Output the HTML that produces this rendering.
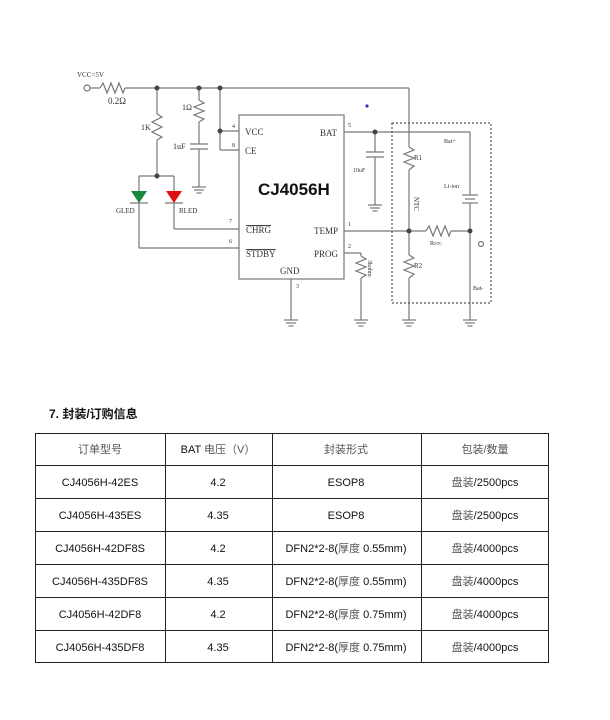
<!DOCTYPE html>
<html><head><meta charset="utf-8"><style>
html,body{margin:0;padding:0;background:#fff;}
svg{display:block;}
.s{font-family:"Liberation Serif","Noto Serif CJK SC",serif;fill:#333;}
.t{font-family:"Liberation Sans","Noto Sans CJK SC",sans-serif;fill:#111;font-size:11px;}
</style></head><body>
<svg width="610" height="720" viewBox="0 0 610 720" xmlns="http://www.w3.org/2000/svg">
<defs>
<g id="gnd"><line x1="-7" y1="0" x2="7" y2="0"/><line x1="-5" y1="3" x2="5" y2="3"/><line x1="-2.5" y1="6" x2="2.5" y2="6"/></g>
</defs>
<g stroke="#777" stroke-width="1.2" fill="none">
<circle cx="87" cy="88" r="3"/>
<line x1="90" y1="88" x2="100" y2="88"/>
<polyline points="100,88 103,83 107,93 111,83 115,93 119,83 123,93 125,88"/>
<line x1="125" y1="88" x2="409" y2="88"/>
<line x1="157" y1="88" x2="157" y2="114"/>
<polyline points="157,114 162,117 152,122 162,127 152,132 162,137 157,140"/>
<line x1="157" y1="140" x2="157" y2="176"/>
<line x1="139" y1="176" x2="174" y2="176"/>
<line x1="139" y1="176" x2="139" y2="248"/>
<line x1="174" y1="176" x2="174" y2="229"/>
<line x1="130" y1="203" x2="148" y2="203"/>
<line x1="165" y1="203" x2="183" y2="203"/>
<line x1="199" y1="88" x2="199" y2="100"/>
<polyline points="199,100 204,103 194,107 204,111 194,115 204,119 199,122"/>
<line x1="199" y1="122" x2="199" y2="144"/>
<line x1="190" y1="144" x2="208" y2="144"/>
<line x1="190" y1="149" x2="208" y2="149"/>
<line x1="199" y1="149" x2="199" y2="187"/>
<use href="#gnd" x="199" y="187"/>
<line x1="220" y1="88" x2="220" y2="150"/>
<line x1="220" y1="131" x2="239" y2="131"/>
<line x1="220" y1="150" x2="239" y2="150"/>
<rect x="239" y="115" width="105" height="164"/>
<line x1="174" y1="229" x2="239" y2="229"/>
<line x1="139" y1="248" x2="239" y2="248"/>
<line x1="291" y1="279" x2="291" y2="320"/>
<use href="#gnd" x="291" y="320"/>
<line x1="344" y1="132" x2="470" y2="132"/>
<line x1="375" y1="132" x2="375" y2="152"/>
<line x1="366" y1="152" x2="384" y2="152"/>
<line x1="366" y1="157" x2="384" y2="157"/>
<line x1="375" y1="157" x2="375" y2="205"/>
<use href="#gnd" x="375" y="205"/>
<line x1="409" y1="88" x2="409" y2="147"/>
<polyline points="409,147 414,150 404,154 414,158 404,162 414,166 409,170"/>
<line x1="409" y1="170" x2="409" y2="255"/>
<polyline points="409,255 414,258 404,262 414,266 404,270 414,274 409,278"/>
<line x1="409" y1="278" x2="409" y2="320"/>
<use href="#gnd" x="409" y="320"/>
<line x1="344" y1="231" x2="426" y2="231"/>
<polyline points="426,231 429,226 433,236 437,226 441,236 445,226 449,236 451,231"/>
<line x1="451" y1="231" x2="470" y2="231"/>
<line x1="470" y1="132" x2="470" y2="195"/>
<line x1="462" y1="195" x2="478" y2="195"/>
<line x1="465" y1="199" x2="475" y2="199"/>
<line x1="462" y1="203" x2="478" y2="203"/>
<line x1="470" y1="203" x2="470" y2="320"/>
<use href="#gnd" x="470" y="320"/>
<circle cx="481" cy="244" r="2.5"/>
<line x1="344" y1="253" x2="361" y2="253"/>
<line x1="361" y1="253" x2="361" y2="256"/>
<polyline points="361,256 366,259 356,263 366,267 356,271 366,275 361,278"/>
<line x1="361" y1="278" x2="361" y2="320"/>
<use href="#gnd" x="361" y="320"/>
<rect x="392" y="123" width="99" height="180" stroke="#555" stroke-dasharray="2,2"/>
</g>
<g fill="#444">
<circle cx="157" cy="88" r="2.5"/><circle cx="199" cy="88" r="2.5"/><circle cx="220" cy="88" r="2.5"/>
<circle cx="220" cy="131" r="2.5"/><circle cx="157" cy="176" r="2.5"/>
<circle cx="375" cy="132" r="2.5"/><circle cx="409" cy="231" r="2.5"/><circle cx="470" cy="231" r="2.5"/>
</g>
<polygon points="131,191 147,191 139,203" fill="#1a8a3a"/>
<polygon points="166,191 182,191 174,203" fill="#e01010"/>
<circle cx="367" cy="106" r="1.6" fill="#3030c0"/>
<g class="s" font-size="9">
<text x="77" y="77" font-size="7">VCC=5V</text>
<text x="108" y="104">0.2Ω</text>
<text x="141" y="130" font-size="8">1K</text>
<text x="182" y="110" font-size="8">1Ω</text>
<text x="173" y="149" font-size="8">1uF</text>
<text x="116" y="213" font-size="7">GLED</text>
<text x="179" y="213" font-size="7">RLED</text>
<text x="232" y="128" font-size="6">4</text>
<text x="232" y="147" font-size="6">8</text>
<text x="229" y="223" font-size="6">7</text>
<text x="229" y="243" font-size="6">6</text>
<text x="296" y="288" font-size="6">3</text>
<text x="348" y="127" font-size="6">5</text>
<text x="348" y="226" font-size="6">1</text>
<text x="348" y="248" font-size="6">2</text>
<text x="245" y="135">VCC</text>
<text x="245" y="154">CE</text>
<text x="246" y="233" text-decoration="overline">CHRG</text>
<text x="246" y="257" text-decoration="overline">STDBY</text>
<text x="280" y="274">GND</text>
<text x="320" y="136">BAT</text>
<text x="314" y="234">TEMP</text>
<text x="314" y="257">PROG</text>
<text x="353" y="172" font-size="6">10uF</text>
<text x="414" y="160" font-size="7">R1</text>
<text x="414" y="268" font-size="7">R2</text>
<text x="444" y="143" font-size="6">Bat+</text>
<text x="444" y="188" font-size="6">Li-ion</text>
<text x="473" y="290" font-size="6">Bat-</text>
<text x="430" y="245" font-size="6">R<tspan font-size="4">NTC</tspan></text>
<text transform="translate(414,197) rotate(90)" font-size="7">NTC</text>
<text transform="translate(368,260) rotate(90)" font-size="6">3kohm</text>
</g>
<text x="258" y="195" font-family="Liberation Sans,sans-serif" font-weight="bold" font-size="17" fill="#111">CJ4056H</text>
<text x="49" y="418" font-family="Liberation Sans,'Noto Sans CJK SC',sans-serif" font-weight="bold" font-size="12" fill="#111">7. 封装/订购信息</text>
<g stroke="#222" stroke-width="1" fill="none">
<rect x="35.5" y="433.5" width="513" height="229"/>
<line x1="165.5" y1="433" x2="165.5" y2="663"/>
<line x1="272.5" y1="433" x2="272.5" y2="663"/>
<line x1="421.5" y1="433" x2="421.5" y2="663"/>
<line x1="35" y1="465.5" x2="549" y2="465.5"/>
<line x1="35" y1="498.5" x2="549" y2="498.5"/>
<line x1="35" y1="531.5" x2="549" y2="531.5"/>
<line x1="35" y1="564.5" x2="549" y2="564.5"/>
<line x1="35" y1="597.5" x2="549" y2="597.5"/>
<line x1="35" y1="630.5" x2="549" y2="630.5"/>
</g>
<g class="t" text-anchor="middle">
<text x="100" y="453" fill="#555">订单型号</text><text x="218" y="453">BAT <tspan fill="#555">电压（V）</tspan></text><text x="346" y="453" fill="#555">封装形式</text><text x="485" y="453" fill="#555">包装/数量</text>
<text x="100" y="486">CJ4056H-42ES</text><text x="218" y="486">4.2</text><text x="346" y="486">ESOP8</text><text x="485" y="486"><tspan fill="#555">盘装</tspan>/2500pcs</text>
<text x="100" y="519">CJ4056H-435ES</text><text x="218" y="519">4.35</text><text x="346" y="519">ESOP8</text><text x="485" y="519"><tspan fill="#555">盘装</tspan>/2500pcs</text>
<text x="100" y="552">CJ4056H-42DF8S</text><text x="218" y="552">4.2</text><text x="346" y="552">DFN2*2-8(<tspan fill="#555">厚度</tspan> 0.55mm)</text><text x="485" y="552"><tspan fill="#555">盘装</tspan>/4000pcs</text>
<text x="100" y="585">CJ4056H-435DF8S</text><text x="218" y="585">4.35</text><text x="346" y="585">DFN2*2-8(<tspan fill="#555">厚度</tspan> 0.55mm)</text><text x="485" y="585"><tspan fill="#555">盘装</tspan>/4000pcs</text>
<text x="100" y="618">CJ4056H-42DF8</text><text x="218" y="618">4.2</text><text x="346" y="618">DFN2*2-8(<tspan fill="#555">厚度</tspan> 0.75mm)</text><text x="485" y="618"><tspan fill="#555">盘装</tspan>/4000pcs</text>
<text x="100" y="651">CJ4056H-435DF8</text><text x="218" y="651">4.35</text><text x="346" y="651">DFN2*2-8(<tspan fill="#555">厚度</tspan> 0.75mm)</text><text x="485" y="651"><tspan fill="#555">盘装</tspan>/4000pcs</text>
</g>
</svg>
</body></html>
